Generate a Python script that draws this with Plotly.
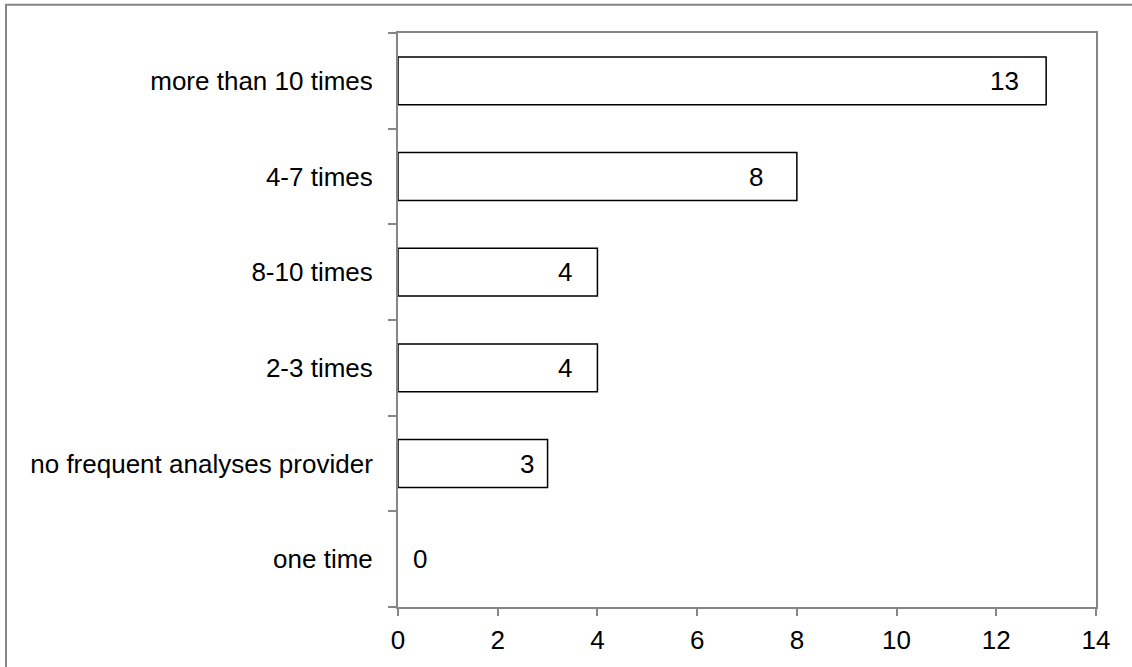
import plotly.graph_objects as go

# Survey answers, listed bottom to top as drawn on the category axis
categories = [
    "one time",
    "no frequent analyses provider",
    "2-3 times",
    "8-10 times",
    "4-7 times",
    "more than 10 times",
]
counts = [0, 3, 4, 4, 8, 13]

x_ticks = [0, 2, 4, 6, 8, 10, 12, 14]

# horizontal pixel offset of each value label from its bar end
label_shift = [22, -21, -32, -32, -41, -42]

FONT = "Liberation Sans, Arial, sans-serif"
GRAY = "#868686"
FS = 26

fig = go.Figure()
fig.add_trace(
    go.Bar(
        y=categories,
        x=counts,
        orientation="h",
        marker=dict(
            color="white",
            line=dict(color="black", width=[0 if v == 0 else 1.5 for v in counts]),
        ),
        hoverinfo="skip",
    )
)

for cat, val, dx in zip(categories, counts, label_shift):
    fig.add_annotation(
        x=val,
        y=cat,
        text=str(val),
        showarrow=False,
        xanchor="center",
        yanchor="middle",
        xshift=dx,
        font=dict(family=FONT, size=FS, color="black"),
    )

# outer chart frame (left and top edges visible within the canvas)
fig.add_shape(
    type="rect",
    xref="paper",
    yref="paper",
    x0=-0.5616,
    x1=1.3,
    y0=-0.3,
    y1=1.0494,
    line=dict(color=GRAY, width=2),
    fillcolor="rgba(0,0,0,0)",
    layer="below",
)

fig.update_layout(
    width=1132,
    height=667,
    margin=dict(l=398, r=36, t=33, b=57),
    paper_bgcolor="white",
    plot_bgcolor="white",
    showlegend=False,
    bargap=0.5,
    font=dict(family=FONT, size=FS, color="black"),
    xaxis=dict(
        range=[0, 14],
        tickmode="array",
        tickvals=x_ticks,
        ticktext=[str(t) for t in x_ticks],
        showgrid=False,
        zeroline=False,
        showline=True,
        linecolor=GRAY,
        linewidth=2,
        mirror=True,
        ticks="outside",
        ticklen=7,
        tickwidth=2,
        tickcolor=GRAY,
        ticklabelstandoff=2,
        tickfont=dict(family=FONT, size=FS, color="black"),
    ),
    yaxis=dict(
        type="category",
        categoryorder="array",
        categoryarray=categories,
        showgrid=False,
        zeroline=False,
        showline=True,
        linecolor=GRAY,
        linewidth=2,
        mirror=True,
        ticks="outside",
        tickson="boundaries",
        ticklen=8,
        tickwidth=2,
        tickcolor=GRAY,
        ticklabelstandoff=18,
        tickfont=dict(family=FONT, size=FS, color="black"),
    ),
)

fig.write_html("out.html")
